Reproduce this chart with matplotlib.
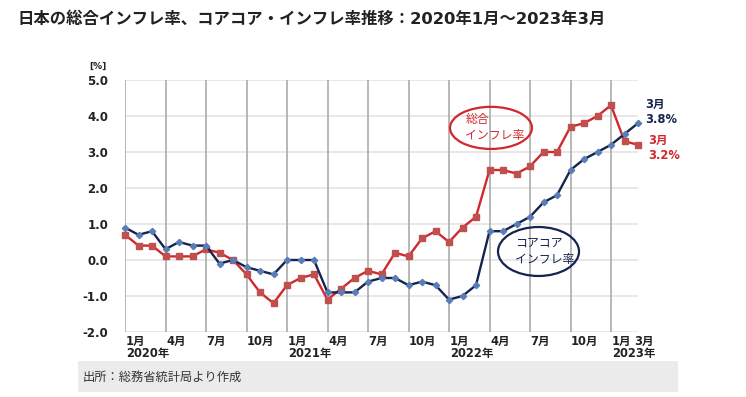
import matplotlib
matplotlib.use("Agg")
import matplotlib.pyplot as plt
from matplotlib.patches import Ellipse, Rectangle
import matplotlib.transforms as mtransforms

plt.rcParams['font.family'] = ['DejaVu Sans', 'Noto Sans CJK JP']

# ---------------- data ----------------
months = list(range(39))  # 2020-01 .. 2023-03
headline = [0.7, 0.4, 0.4, 0.1, 0.1, 0.1, 0.3, 0.2, 0.0, -0.4, -0.9, -1.2,
            -0.7, -0.5, -0.4, -1.1, -0.8, -0.5, -0.3, -0.4, 0.2, 0.1, 0.6, 0.8,
            0.5, 0.9, 1.2, 2.5, 2.5, 2.4, 2.6, 3.0, 3.0, 3.7, 3.8, 4.0,
            4.3, 3.3, 3.2]
corecore = [0.9, 0.7, 0.8, 0.3, 0.5, 0.4, 0.4, -0.1, 0.0, -0.2, -0.3, -0.4,
            0.0, 0.0, 0.0, -0.9, -0.9, -0.9, -0.6, -0.5, -0.5, -0.7, -0.6, -0.7,
            -1.1, -1.0, -0.7, 0.8, 0.8, 1.0, 1.2, 1.6, 1.8, 2.5, 2.8, 3.0,
            3.2, 3.5, 3.8]
tick_pos = [0, 3, 6, 9, 12, 15, 18, 21, 24, 27, 30, 33, 36, 38]
tick_labels = ['1月', '4月', '7月', '10月', '1月', '4月', '7月', '10月',
               '1月', '4月', '7月', '10月', '1月', '3月']
year_pos = [0, 12, 24, 36]
year_labels = ['2020年', '2021年', '2022年', '2023年']
grid_x = [0, 3, 6, 9, 12, 15, 18, 21, 24, 27, 30, 33, 36]
y_ticks = [-2.0, -1.0, 0.0, 1.0, 2.0, 3.0, 4.0, 5.0]

title = '日本の総合インフレ率、コアコア・インフレ率推移：2020年1月～2023年3月'
source = '出所：総務省統計局より作成'

RED = '#d0282c'
RED_M = '#c0504d'
NAVY = '#14244e'
NAVY_M = '#5a7db8'

W, H = 746, 397
fig = plt.figure(figsize=(W / 100, H / 100), dpi=100)
fig.patch.set_facecolor('white')

# axes placement (pixels)
L, R, T, B = 125, 638, 80, 332
ax = fig.add_axes([L / W, 1 - B / H, (R - L) / W, (B - T) / H])
ax.set_xlim(0, 38)
ax.set_ylim(-2, 5)
for s in ax.spines.values():
    s.set_visible(False)

# gridlines
for yv in y_ticks:
    ax.axhline(yv, color='#e6e6e6', lw=1.3, zorder=0)
for xv in grid_x:
    ax.axvline(xv, color='#ababab', lw=1.2, zorder=1)

# lines
ax.plot(months, headline, color=RED, lw=1.7, marker='s', ms=3.8,
        mfc=RED_M, mec=RED_M, clip_on=False, zorder=3)
ax.plot(months, corecore, color=NAVY, lw=1.7, marker='D', ms=3.2,
        mfc=NAVY_M, mec=NAVY_M, clip_on=False, zorder=4)

# y ticks
ax.set_yticks(y_ticks)
ax.set_yticklabels([f'{v:.1f}' for v in y_ticks], fontsize=8.5,
                   fontweight='bold', color='#222222')
ax.tick_params(axis='y', length=0, pad=12)
ax.set_xticks([])

# x labels
trans = mtransforms.blended_transform_factory(ax.transData, ax.transAxes)
for p, lab in zip(tick_pos, tick_labels):
    off = -0.3 if p == 38 else 0.05
    ax.text(p + off, -0.012, lab, transform=trans, ha='left', va='top',
            fontsize=8.3, fontweight='bold', color='#222222')
for p, lab in zip(year_pos, year_labels):
    ax.text(p + 0.05, -0.058, lab, transform=trans, ha='left', va='top',
            fontsize=8.3, fontweight='bold', color='#222222')

# unit label
fig.text(98 / W, 1 - 66 / H, '[%]', ha='center', va='center', fontsize=6.5,
         fontweight='bold', color='#222222')

# annotations: ellipses
ax.add_patch(Ellipse((27.11, 3.67), 6.07, 1.17, fill=False, ec=RED, lw=1.6,
                     clip_on=False, zorder=5))
ax.text(25.2, 3.67, '総合\nインフレ率', ha='left', va='center', fontsize=8.6,
        color=RED, linespacing=1.3, family=['Noto Sans CJK JP', 'DejaVu Sans'],
        zorder=6)
ax.add_patch(Ellipse((30.63, 0.236), 6.0, 1.36, fill=False, ec=NAVY, lw=1.6,
                     clip_on=False, zorder=5))
ax.text(28.9, 0.236, 'コアコア\nインフレ率', ha='left', va='center', fontsize=8.6,
        color=NAVY, linespacing=1.3, family=['Noto Sans CJK JP', 'DejaVu Sans'],
        zorder=6)

# end labels
ax.text(38.5, 4.12, '3月\n3.8%', ha='left', va='center', fontsize=8.3,
        fontweight='bold', color=NAVY, linespacing=1.2, clip_on=False)
ax.text(38.74, 3.10, '3月\n3.2%', ha='left', va='center', fontsize=8.3,
        fontweight='bold', color=RED, linespacing=1.2, clip_on=False)

# title
fig.text(18 / W, 1 - 19 / H, title, ha='left', va='center', fontsize=11.8,
         fontweight='bold', color='#222222')

# source box
fig.patches.append(Rectangle((78 / W, 1 - 392 / H), 600 / W, 31 / H,
                             transform=fig.transFigure, facecolor='#ebebeb',
                             edgecolor='none', zorder=0))
fig.text(83 / W, 1 - 377 / H, source, ha='left', va='center', fontsize=8.8,
         color='#333333', family=['Noto Sans CJK JP', 'DejaVu Sans'])

fig.savefig('out.png', dpi=100)
